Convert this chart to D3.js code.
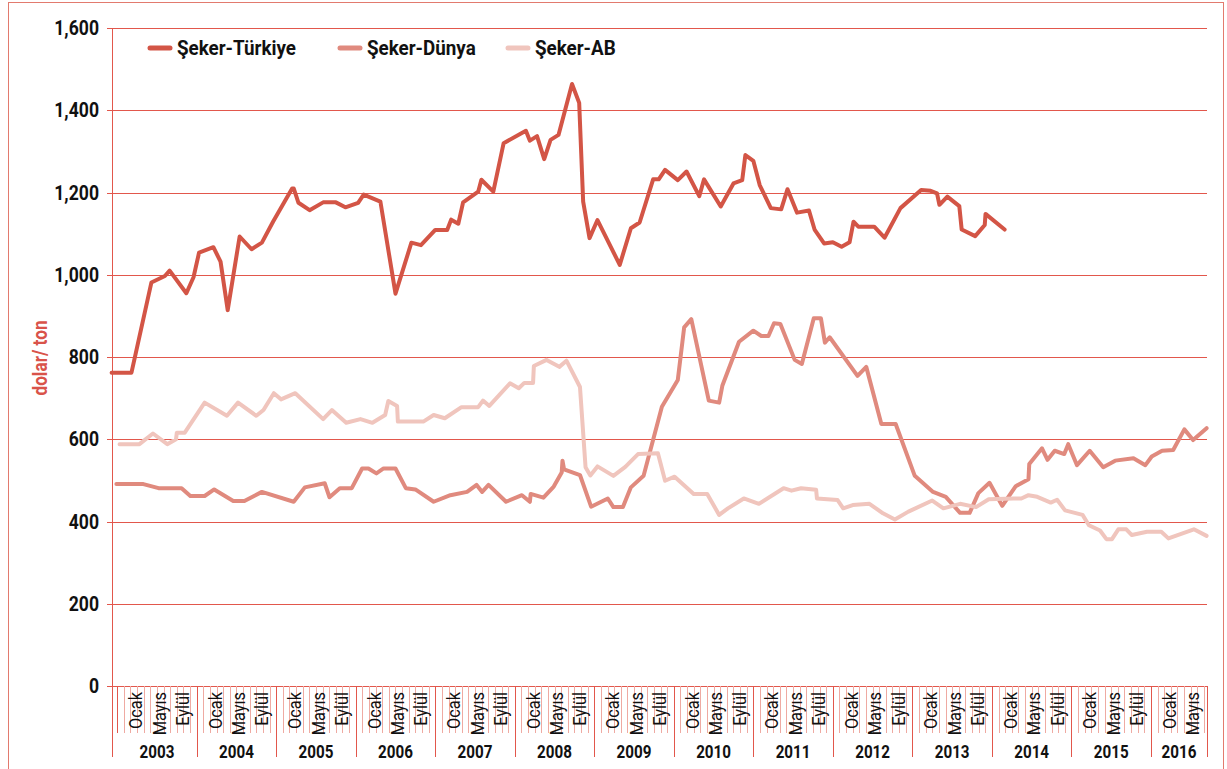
<!DOCTYPE html>
<html>
<head>
<meta charset="utf-8">
<script src="https://cdn.jsdelivr.net/npm/d3@7"></script>
<style>
  body { margin: 0; background: #fff; }
  text { font-family: Roboto, "Liberation Sans", sans-serif; }
</style>
</head>
<body>
<div id="chart"></div>
<script>
//////////DATA//////////
const years = [2003, 2004, 2005, 2006, 2007, 2008, 2009, 2010, 2011, 2012, 2013, 2014, 2015, 2016];
const monthLabels = ["Ocak", "Mayıs", "Eylül"];
const yTicks = [0, 200, 400, 600, 800, 1000, 1200, 1400, 1600];
const seriesNames = ["Şeker-Türkiye", "Şeker-Dünya", "Şeker-AB"];

// [decimal year, dolar/ton]
const turkiyeData = [
  [2002.93, 762], [2003.18, 762], [2003.43, 981], [2003.60, 997], [2003.66, 1010],
  [2003.87, 955], [2003.96, 994], [2004.03, 1054], [2004.21, 1067], [2004.30, 1032],
  [2004.39, 914], [2004.54, 1093], [2004.69, 1062], [2004.82, 1078], [2004.96, 1129],
  [2005.20, 1210], [2005.22, 1210], [2005.28, 1175], [2005.42, 1157], [2005.59, 1176],
  [2005.75, 1176], [2005.87, 1164], [2006.03, 1175], [2006.10, 1195], [2006.31, 1178],
  [2006.50, 954], [2006.70, 1078], [2006.82, 1072], [2007.00, 1109], [2007.15, 1109],
  [2007.20, 1134], [2007.29, 1124], [2007.35, 1176], [2007.54, 1202], [2007.58, 1231],
  [2007.73, 1202], [2007.86, 1320], [2008.14, 1350], [2008.19, 1326], [2008.28, 1337],
  [2008.37, 1281], [2008.45, 1328], [2008.55, 1340], [2008.72, 1464], [2008.81, 1418],
  [2008.86, 1178], [2008.94, 1089], [2009.04, 1133], [2009.32, 1024], [2009.46, 1113],
  [2009.57, 1127], [2009.74, 1232], [2009.81, 1232], [2009.89, 1255], [2010.05, 1230],
  [2010.16, 1251], [2010.32, 1191], [2010.38, 1232], [2010.59, 1166], [2010.75, 1222],
  [2010.86, 1230], [2010.90, 1291], [2011.00, 1277], [2011.08, 1218], [2011.22, 1162],
  [2011.35, 1159], [2011.43, 1208], [2011.55, 1151], [2011.70, 1156], [2011.77, 1110],
  [2011.89, 1076], [2012.00, 1079], [2012.11, 1068], [2012.21, 1079], [2012.26, 1129],
  [2012.32, 1117], [2012.52, 1117], [2012.65, 1090], [2012.85, 1162], [2013.11, 1206],
  [2013.23, 1204], [2013.31, 1198], [2013.34, 1170], [2013.44, 1190], [2013.59, 1167],
  [2013.62, 1110], [2013.79, 1094], [2013.91, 1121], [2013.92, 1148], [2014.16, 1110]
];

const dunyaData = [
  [2002.99, 491], [2003.33, 491], [2003.52, 481], [2003.81, 481], [2003.92, 462],
  [2004.10, 462], [2004.22, 478], [2004.46, 450], [2004.60, 450], [2004.82, 472],
  [2005.22, 448], [2005.36, 483], [2005.61, 493], [2005.67, 459], [2005.80, 481],
  [2005.95, 481], [2006.08, 529], [2006.16, 529], [2006.26, 517], [2006.35, 529],
  [2006.50, 529], [2006.63, 481], [2006.75, 478], [2006.98, 448], [2007.19, 464],
  [2007.40, 472], [2007.52, 489], [2007.59, 472], [2007.67, 489], [2007.89, 448],
  [2008.09, 464], [2008.19, 448], [2008.20, 467], [2008.36, 458], [2008.49, 485],
  [2008.59, 519], [2008.60, 548], [2008.62, 527], [2008.82, 513], [2008.96, 436],
  [2009.17, 456], [2009.24, 435], [2009.36, 435], [2009.46, 483], [2009.62, 511],
  [2009.85, 679], [2010.05, 744], [2010.13, 872], [2010.22, 892], [2010.44, 694],
  [2010.57, 689], [2010.61, 730], [2010.82, 837], [2011.00, 864], [2011.10, 851],
  [2011.19, 851], [2011.26, 882], [2011.34, 880], [2011.52, 793], [2011.61, 783],
  [2011.76, 894], [2011.85, 894], [2011.90, 835], [2011.96, 848], [2012.31, 754],
  [2012.42, 776], [2012.61, 637], [2012.79, 637], [2013.03, 511], [2013.26, 472],
  [2013.42, 460], [2013.60, 421], [2013.72, 421], [2013.83, 469], [2013.97, 494],
  [2014.13, 438], [2014.30, 486], [2014.46, 503], [2014.47, 540], [2014.63, 578],
  [2014.70, 550], [2014.79, 572], [2014.91, 564], [2014.96, 588], [2015.07, 537],
  [2015.23, 572], [2015.40, 532], [2015.55, 548], [2015.78, 554], [2015.93, 537],
  [2016.01, 558], [2016.14, 572], [2016.28, 574], [2016.42, 624], [2016.53, 598],
  [2016.70, 627]
];

const abData = [
  [2003.03, 588], [2003.28, 588], [2003.45, 614], [2003.63, 588], [2003.74, 600],
  [2003.75, 616], [2003.85, 616], [2004.10, 689], [2004.38, 657], [2004.52, 689],
  [2004.75, 657], [2004.84, 671], [2004.97, 712], [2005.06, 697], [2005.24, 712],
  [2005.59, 649], [2005.70, 671], [2005.88, 640], [2006.06, 649], [2006.21, 640],
  [2006.37, 659], [2006.41, 693], [2006.52, 681], [2006.53, 643], [2006.85, 643],
  [2006.98, 659], [2007.12, 651], [2007.33, 678], [2007.54, 678], [2007.60, 694],
  [2007.68, 681], [2007.94, 736], [2008.05, 724], [2008.12, 737], [2008.23, 737],
  [2008.24, 778], [2008.40, 793], [2008.56, 776], [2008.65, 791], [2008.82, 727],
  [2008.89, 532], [2008.95, 512], [2009.04, 534], [2009.24, 511], [2009.39, 533],
  [2009.55, 564], [2009.80, 566], [2009.89, 499], [2010.01, 509], [2010.25, 467],
  [2010.42, 467], [2010.57, 416], [2010.68, 432], [2010.88, 456], [2011.07, 443],
  [2011.38, 481], [2011.48, 475], [2011.60, 481], [2011.79, 477], [2011.80, 456],
  [2012.06, 452], [2012.13, 432], [2012.25, 440], [2012.46, 443], [2012.63, 420],
  [2012.78, 405], [2012.95, 424], [2013.25, 451], [2013.39, 432], [2013.60, 443],
  [2013.80, 435], [2013.96, 454], [2014.27, 456], [2014.37, 456], [2014.46, 464],
  [2014.57, 460], [2014.74, 446], [2014.82, 453], [2014.92, 427], [2015.14, 416],
  [2015.22, 391], [2015.36, 378], [2015.44, 357], [2015.51, 357], [2015.59, 381],
  [2015.69, 381], [2015.76, 367], [2015.95, 375], [2016.13, 375], [2016.22, 359],
  [2016.54, 381], [2016.70, 365]
];

//////////LAYOUT//////////
const svgObj = { width: 1227, height: 769 };
const plotObj = { left: 112, right: 1207, top: 28, bottom: 686 };
const timeStart = 2002.935;
const timeEnd = 2016.705;
const monthLabelOffsets = [0.233, 0.528, 0.82]; // fraction of a year, Ocak/Mayis/Eylul
const seriesColors = ["#d35546", "#e08a7e", "#f0c5bd"];
const gridColor = "#e2574c";
const tickColor = "#efaaa2";

const x = d3.scaleLinear().domain([timeStart, timeEnd]).range([plotObj.left, plotObj.right]);
const y = d3.scaleLinear().domain([0, 1600]).range([plotObj.bottom, plotObj.top]);

// condensed look: squeeze glyphs to a share of their natural width
const squeeze = (sel, k) => {
  sel.each(function () {
    const w = this.getComputedTextLength();
    d3.select(this).attr("textLength", w * k).attr("lengthAdjust", "spacingAndGlyphs");
  });
};

const svg = d3
  .select("#chart")
  .append("svg")
  .attr("width", svgObj.width)
  .attr("height", svgObj.height);

// outer frame
svg
  .append("rect")
  .attr("x", 8.5)
  .attr("y", 2.5)
  .attr("width", 1215)
  .attr("height", 800)
  .attr("fill", "none")
  .attr("stroke", "#e27a6e")
  .attr("stroke-width", 1);

// grid + y labels
const gridGroup = svg.append("g");
yTicks.forEach((v) => {
  gridGroup
    .append("line")
    .attr("x1", plotObj.left - 5)
    .attr("x2", plotObj.right)
    .attr("y1", Math.round(y(v)) + 0.5)
    .attr("y2", Math.round(y(v)) + 0.5)
    .attr("stroke", gridColor)
    .attr("stroke-width", 1);

  gridGroup
    .append("text")
    .attr("x", 99)
    .attr("y", y(v))
    .attr("text-anchor", "end")
    .attr("dominant-baseline", "central")
    .attr("font-size", 20)
    .attr("font-weight", 700)
    .attr("fill", "#111")
    .text(d3.format(",")(v))
    .call(squeeze, 0.88);
});

// y axis title
svg
  .append("text")
  .attr("transform", "translate(40, 358) rotate(-90)")
  .attr("text-anchor", "middle")
  .attr("dominant-baseline", "central")
  .attr("font-size", 20)
  .attr("font-weight", 700)
  .attr("fill", "#d9534a")
  .text("dolar/ ton")
  .call(squeeze, 0.86);

// x axis: month ticks, year boundaries, labels
const axisGroup = svg.append("g");
years.forEach((yr) => {
  for (let k = 0; k < 12; k++) {
    const t = yr + k / 12;
    if (t <= timeStart || t >= timeEnd) continue;
    axisGroup
      .append("line")
      .attr("x1", Math.round(x(t)) + 0.5)
      .attr("x2", Math.round(x(t)) + 0.5)
      .attr("y1", plotObj.bottom)
      .attr("y2", 733)
      .attr("stroke", k === 0 ? gridColor : tickColor)
      .attr("stroke-width", 1);
  }

  monthLabels.forEach((m, i) => {
    const t = yr + monthLabelOffsets[i];
    if (t >= timeEnd) return;
    axisGroup
      .append("text")
      .attr("transform", `translate(${x(t)}, 692) rotate(-90)`)
      .attr("text-anchor", "end")
      .attr("dominant-baseline", "central")
      .attr("font-size", 19)
      .attr("fill", "#111")
      .text(m)
      .call(squeeze, 0.86);
  });

  const x0 = x(Math.max(yr, timeStart));
  const x1 = x(Math.min(yr + 1, timeEnd));
  axisGroup
    .append("text")
    .attr("x", (x0 + x1) / 2)
    .attr("y", 751)
    .attr("text-anchor", "middle")
    .attr("dominant-baseline", "central")
    .attr("font-size", 19)
    .attr("font-weight", 700)
    .attr("fill", "#111")
    .text(yr)
    .call(squeeze, 0.8);
});

// year boundary lines (incl. both ends)
const boundaries = [timeStart].concat(years.slice(1), [timeEnd]);
boundaries.forEach((t) => {
  axisGroup
    .append("line")
    .attr("x1", Math.round(x(t)) + 0.5)
    .attr("x2", Math.round(x(t)) + 0.5)
    .attr("y1", t === timeStart ? plotObj.top : plotObj.bottom)
    .attr("y2", 757)
    .attr("stroke", gridColor)
    .attr("stroke-width", 1);
});

// series
const line = d3
  .line()
  .x((d) => x(d[0]))
  .y((d) => y(d[1]));

const seriesGroup = svg.append("g");
[turkiyeData, dunyaData, abData].forEach((data, i) => {
  seriesGroup
    .append("path")
    .attr("d", line(data))
    .attr("fill", "none")
    .attr("stroke", seriesColors[i])
    .attr("stroke-width", 4)
    .attr("stroke-linejoin", "round")
    .attr("stroke-linecap", "round");
});

// legend
const legendX = [150, 340, 508];
const legendGroup = svg.append("g");
seriesNames.forEach((name, i) => {
  legendGroup
    .append("line")
    .attr("x1", legendX[i])
    .attr("x2", legendX[i] + 20)
    .attr("y1", 48)
    .attr("y2", 48)
    .attr("stroke", seriesColors[i])
    .attr("stroke-width", 5)
    .attr("stroke-linecap", "round");

  legendGroup
    .append("text")
    .attr("x", legendX[i] + 27)
    .attr("y", 48)
    .attr("dominant-baseline", "central")
    .attr("font-size", 20)
    .attr("font-weight", 700)
    .attr("fill", "#111")
    .text(name)
    .call(squeeze, 0.94);
});
</script>
</body>
</html>
